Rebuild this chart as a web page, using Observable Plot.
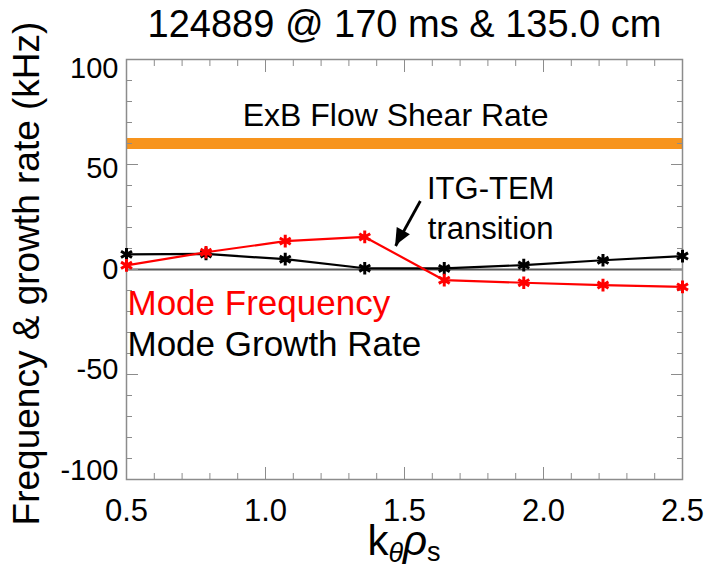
<!DOCTYPE html>
<html><head><meta charset="utf-8">
<script src="https://cdn.jsdelivr.net/npm/d3@7"></script>
<script src="https://cdn.jsdelivr.net/npm/@observablehq/plot@0.6"></script>
<style>
body{margin:0;background:#fff;}
#chart svg{font-family:"Liberation Sans",Arial,Helvetica,sans-serif;}
</style></head><body><div id="chart"></div>
<script>
// ---- data ----
const kRho = [0.5, 0.786, 1.071, 1.357, 1.643, 1.929, 2.214, 2.5];
const modeFrequency = [2.0, 8.2, 13.5, 15.5, -5.1, -6.3, -7.4, -8.3];
const modeGrowthRate = [7.2, 7.4, 4.9, 0.6, 0.5, 2.1, 4.4, 6.4];
const exbShearRate = [60];
const xTickValues = [0.5, 1.0, 1.5, 2.0, 2.5];
const yTickValues = [-100, -50, 0, 50, 100];
const xMinorTicks = d3.range(5, 26).map(i => i / 10);
const yMinorTicks = d3.range(-10, 11).map(i => i * 10);
const titleText = "124889 @ 170 ms & 135.0 cm";
const yLabelText = "Frequency & growth rate (kHz)";
// annotation anchors (data coordinates)
const exbLabel = {text: "ExB Flow Shear Rate", x: 1.468, y: 73};
const itgLabel = [{text: "ITG-TEM", x: 1.81, y: 38.3}, {text: "transition", x: 1.81, y: 19.3}];
const arrowPts = {x1: 1.557, y1: 32.6, x2: 1.468, y2: 11.2};
const legendItems = [{text: "Mode Frequency", color: "#ff0000", x: 0.5, y: -16.4},
                     {text: "Mode Growth Rate", color: "#000000", x: 0.5, y: -36}];

const freqRows = kRho.map((k, i) => ({k, v: modeFrequency[i]}));
const growthRows = kRho.map((k, i) => ({k, v: modeGrowthRate[i]}));
const ORANGE = "#f7941d", FRAME = "#8c8c8c";
const FONT = '"Liberation Sans", Arial, sans-serif';

const plot = Plot.plot({
  width: 708, height: 567,
  marginTop: 59, marginBottom: 88, marginLeft: 126, marginRight: 26,
  x: {domain: [0.5, 2.5]},
  y: {domain: [-100, 100]},
  style: {fontFamily: FONT, color: "black", background: "white"},
  marks: [
    Plot.ruleY(exbShearRate, {stroke: ORANGE, strokeWidth: 11}),
    Plot.ruleY([0], {stroke: "#555", strokeWidth: 1.8}),
    // inward ticks
    Plot.axisY(yMinorTicks, {anchor: "left", tickSize: -6, text: null, label: null, stroke: FRAME}),
    Plot.axisY(yTickValues, {anchor: "left", tickSize: -12, text: null, label: null, stroke: FRAME}),
    Plot.axisY(yMinorTicks, {anchor: "right", tickSize: -6, text: null, label: null, stroke: FRAME}),
    Plot.axisY(yTickValues, {anchor: "right", tickSize: -12, text: null, label: null, stroke: FRAME}),
    Plot.axisX(xMinorTicks, {anchor: "bottom", tickSize: -6, text: null, label: null, stroke: FRAME}),
    Plot.axisX(xTickValues, {anchor: "bottom", tickSize: -12, text: null, label: null, stroke: FRAME}),
    Plot.axisX(xMinorTicks, {anchor: "top", tickSize: -6, text: null, label: null, stroke: FRAME}),
    Plot.axisX(xTickValues, {anchor: "top", tickSize: -12, text: null, label: null, stroke: FRAME}),
    // tick labels (the reference sets the outer y labels slightly inside their ticks)
    ...yTickValues.map(v => Plot.axisY([v], {anchor: "left", tickSize: 0, tickPadding: 8, fontSize: 29, label: null, dy: v * 0.09, tickFormat: d => String(d)})),
    Plot.axisX(xTickValues, {anchor: "bottom", tickSize: 0, tickPadding: 19, fontSize: 31, label: null, tickFormat: d => d.toFixed(1)}),
    Plot.frame({stroke: FRAME, strokeWidth: 1.5}),
    // series
    Plot.line(growthRows, {x: "k", y: "v", stroke: "black", strokeWidth: 2.2}),
    Plot.dot(growthRows, {x: "k", y: "v", symbol: "asterisk", r: 6, stroke: "black", strokeWidth: 3}),
    Plot.line(freqRows, {x: "k", y: "v", stroke: "#ff0000", strokeWidth: 2.2}),
    Plot.dot(freqRows, {x: "k", y: "v", symbol: "asterisk", r: 6, stroke: "#ff0000", strokeWidth: 3}),
    // annotations
    Plot.text([exbLabel], {x: "x", y: "y", text: "text", fontSize: 32, fill: "black"}),
    Plot.text(itgLabel, {x: "x", y: "y", text: "text", fontSize: 31, fill: "black"}),
    Plot.link([arrowPts], {x1: "x1", y1: "y1", x2: "x2", y2: "y2", stroke: "black", strokeWidth: 2.8}),
    Plot.text(legendItems, {x: "x", y: "y", text: "text", fill: "color", fontSize: 35, textAnchor: "start", dx: 1}),
    // title and y label
    Plot.text([titleText], {frameAnchor: "top", text: d => d, dy: -35, lineAnchor: "middle", fontSize: 38, fill: "black"}),
    Plot.text([yLabelText], {frameAnchor: "left", text: d => d, rotate: -90, textAnchor: "middle", lineAnchor: "middle", dx: -99, dy: 4, fontSize: 37, fill: "black"})
  ]
});

// filled arrow head, positioned with the plot's scales
const sx = plot.scale("x"), sy = plot.scale("y");
const tx = sx.apply(arrowPts.x2), ty = sy.apply(arrowPts.y2);
const fx = sx.apply(arrowPts.x1), fy = sy.apply(arrowPts.y1);
const L = Math.hypot(tx - fx, ty - fy), ux = (tx - fx) / L, uy = (ty - fy) / L;
const hl = 17, hw = 7.5;
const bx = tx - ux * hl, by = ty - uy * hl;
d3.select(plot).append("polygon")
  .attr("points", [[tx, ty], [bx - uy * hw, by + ux * hw], [bx + uy * hw, by - ux * hw]].map(p => p.join(",")).join(" "))
  .attr("fill", "black");

// x-axis label with sub-scripts
const xl = d3.select(plot).append("text")
  .attr("x", (sx.range[0] + sx.range[1]) / 2).attr("y", 555)
  .attr("text-anchor", "middle").attr("font-size", 42).attr("fill", "black")
  .style("font-family", FONT);
xl.append("tspan").text("k");
xl.append("tspan").attr("font-size", 27).attr("font-style", "italic").attr("dy", 7).text("θ");
xl.append("tspan").attr("font-style", "italic").attr("dy", -7).text("ρ");
xl.append("tspan").attr("font-size", 27).attr("dy", 6).text("s");

document.getElementById("chart").appendChild(plot);
</script></body></html>
